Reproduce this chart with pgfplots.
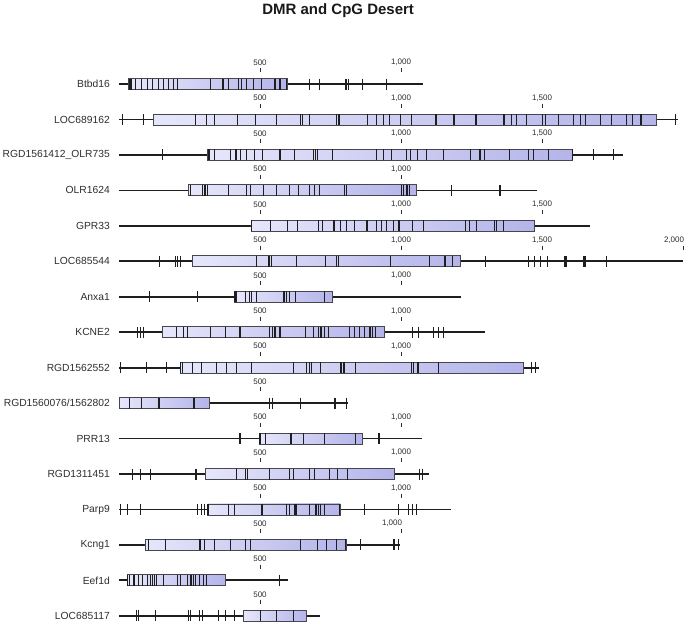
\documentclass[border=0pt]{standalone}
\usepackage{fontspec}
\setmainfont{Liberation Sans}
\usepackage{pgfplots}
\pgfplotsset{compat=1.18}
\definecolor{boxL}{RGB}{230,230,251}
\definecolor{boxR}{RGB}{180,180,234}
\definecolor{linec}{RGB}{30,30,30}
\definecolor{boxline}{RGB}{70,70,80}
\definecolor{txt}{RGB}{45,45,45}
\begin{document}
\begin{tikzpicture}
\begin{axis}[
  hide axis, clip=false,
  x=0.282pt, y=35.45pt, y dir=reverse,
  xmin=-422, xmax=2007, ymin=-1.35, ymax=16.22,
  gene/.style={linec, line width=1.8pt, no markers},
  box/.style={draw=boxline, line width=0.9pt, left color=boxL, right color=boxR, no markers},
  cpg/.style={only marks, mark=|, mark size=5.5pt, mark options={draw=linec, line width=1.1pt}},
  scale/.style={only marks, mark=|, mark size=2pt, mark options={draw=txt, line width=1pt},
    nodes near coords, point meta=explicit symbolic,
    nodes near coords style={font=\fontsize{8}{9}\selectfont, text=txt, inner sep=0pt}},
]
% gene lines
\addplot[gene] coordinates {(0,1) (1077,1)};
\addplot[gene] coordinates {(0,2) (1983,2)};
\addplot[gene] coordinates {(0,3) (1788,3)};
\addplot[gene] coordinates {(0,4) (1481,4)};
\addplot[gene] coordinates {(0,5) (1670,5)};
\addplot[gene] coordinates {(0,6) (2001,6)};
\addplot[gene] coordinates {(0,7) (1212,7)};
\addplot[gene] coordinates {(0,8) (1298,8)};
\addplot[gene] coordinates {(0,9) (1490,9)};
\addplot[gene] coordinates {(0,10) (813,10)};
\addplot[gene] coordinates {(0,11) (1075,11)};
\addplot[gene] coordinates {(0,12) (1100,12)};
\addplot[gene] coordinates {(0,13) (1176,13)};
\addplot[gene] coordinates {(0,14) (996,14)};
\addplot[gene] coordinates {(0,15) (598,15)};
\addplot[gene] coordinates {(0,16) (713,16)};
% DMR boxes
\addplot[box] coordinates {(35,0.845) (597,0.845) (597,1.155) (35,1.155)} --cycle;
\addplot[box] coordinates {(122,1.845) (1907,1.845) (1907,2.155) (122,2.155)} --cycle;
\addplot[box] coordinates {(313,2.845) (1609,2.845) (1609,3.155) (313,3.155)} --cycle;
\addplot[box] coordinates {(248,3.845) (1055,3.845) (1055,4.155) (248,4.155)} --cycle;
\addplot[box] coordinates {(468,4.845) (1473,4.845) (1473,5.155) (468,5.155)} --cycle;
\addplot[box] coordinates {(259,5.845) (1211,5.845) (1211,6.155) (259,6.155)} --cycle;
\addplot[box] coordinates {(409,6.845) (756,6.845) (756,7.155) (409,7.155)} --cycle;
\addplot[box] coordinates {(155,7.845) (940,7.845) (940,8.155) (155,8.155)} --cycle;
\addplot[box] coordinates {(219,8.845) (1434,8.845) (1434,9.155) (219,9.155)} --cycle;
\addplot[box] coordinates {(0,9.845) (319,9.845) (319,10.155) (0,10.155)} --cycle;
\addplot[box] coordinates {(498,10.845) (863,10.845) (863,11.155) (498,11.155)} --cycle;
\addplot[box] coordinates {(308,11.845) (977,11.845) (977,12.155) (308,12.155)} --cycle;
\addplot[box] coordinates {(314,12.845) (784,12.845) (784,13.155) (314,13.155)} --cycle;
\addplot[box] coordinates {(92,13.845) (805,13.845) (805,14.155) (92,14.155)} --cycle;
\addplot[box] coordinates {(30,14.845) (376,14.845) (376,15.155) (30,15.155)} --cycle;
\addplot[box] coordinates {(441,15.845) (665,15.845) (665,16.155) (441,16.155)} --cycle;
% CpG sites
\addplot[cpg] coordinates {(39,1) (45,1) (60,1) (80,1) (100,1) (119,1) (139,1) (157,1) (175,1) (193,1) (208,1) (323,1) (368,1) (372,1) (388,1) (423,1) (435,1) (453,1) (476,1) (506,1) (553,1) (571,1) (595,1) (674,1) (710,1) (805,1) (814,1) (864,1) (947,1)};
\addplot[cpg] coordinates {(12,2) (86,2) (270,2) (311,2) (340,2) (420,2) (485,2) (559,2) (644,2) (650,2) (674,2) (772,2) (777,2) (781,2) (881,2) (914,2) (937,2) (959,2) (999,2) (1038,2) (1124,2) (1188,2) (1266,2) (1365,2) (1392,2) (1408,2) (1446,2) (1501,2) (1513,2) (1558,2) (1611,2) (1635,2) (1655,2) (1708,2) (1745,2) (1800,2) (1820,2) (1849,2) (1853,2) (1972,2)};
\addplot[cpg] coordinates {(155,3) (319,3) (340,3) (396,3) (415,3) (431,3) (453,3) (479,3) (509,3) (571,3) (622,3) (691,3) (697,3) (704,3) (756,3) (914,3) (937,3) (967,3) (1018,3) (1035,3) (1058,3) (1089,3) (1150,3) (1247,3) (1280,3) (1296,3) (1386,3) (1451,3) (1469,3) (1522,3) (1607,3) (1682,3) (1753,3)};
\addplot[cpg] coordinates {(252,4) (295,4) (305,4) (313,4) (388,4) (453,4) (465,4) (512,4) (557,4) (606,4) (636,4) (675,4) (693,4) (710,4) (801,4) (807,4) (1002,4) (1010,4) (1018,4) (1022,4) (1030,4) (1180,4) (1351,4)};
\addplot[cpg] coordinates {(470,5) (538,5) (598,5) (632,5) (707,5) (722,5) (760,5) (763,5) (784,5) (807,5) (835,5) (876,5) (882,5) (914,5) (931,5) (949,5) (973,5) (993,5) (1040,5) (1079,5) (1230,5) (1242,5) (1268,5) (1333,5) (1339,5) (1363,5)};
\addplot[cpg] coordinates {(143,6) (201,6) (208,6) (219,6) (488,6) (530,6) (535,6) (541,6) (630,6) (731,6) (772,6) (777,6) (964,6) (1100,6) (1156,6) (1182,6) (1298,6) (1451,6) (1473,6) (1496,6) (1520,6) (1579,6) (1585,6) (1649,6) (1655,6) (1729,6)};
\addplot[cpg] coordinates {(108,7) (279,7) (411,7) (415,7) (450,7) (462,7) (470,7) (488,7) (585,7) (594,7) (603,7) (626,7) (730,7)};
\addplot[cpg] coordinates {(66,8) (77,8) (88,8) (204,8) (230,8) (242,8) (326,8) (379,8) (429,8) (535,8) (544,8) (553,8) (571,8) (660,8) (689,8) (707,8) (713,8) (719,8) (730,8) (742,8) (816,8) (835,8) (852,8) (870,8) (890,8) (900,8) (908,8) (1041,8) (1061,8) (1115,8) (1132,8) (1150,8)};
\addplot[cpg] coordinates {(4,9) (96,9) (169,9) (219,9) (226,9) (261,9) (293,9) (346,9) (382,9) (417,9) (470,9) (618,9) (666,9) (675,9) (681,9) (713,9) (787,9) (795,9) (801,9) (839,9) (1038,9) (1044,9) (1058,9) (1063,9) (1132,9) (1463,9) (1477,9)};
\addplot[cpg] coordinates {(36,10) (80,10) (139,10) (145,10) (266,10) (535,10) (544,10) (642,10) (766,10) (807,10)};
\addplot[cpg] coordinates {(429,11) (500,11) (520,11) (610,11) (654,11) (728,11) (837,11) (922,11)};
\addplot[cpg] coordinates {(48,12) (77,12) (112,12) (273,12) (417,12) (450,12) (456,12) (535,12) (603,12) (620,12) (674,12) (693,12) (746,12) (775,12) (810,12) (1065,12) (1077,12)};
\addplot[cpg] coordinates {(4,13) (30,13) (77,13) (278,13) (291,13) (303,13) (314,13) (318,13) (388,13) (408,13) (504,13) (509,13) (594,13) (604,13) (624,13) (630,13) (677,13) (697,13) (701,13) (707,13) (713,13) (728,13) (782,13) (869,13) (990,13) (1026,13) (1040,13) (1055,13)};
\addplot[cpg] coordinates {(104,14) (165,14) (285,14) (290,14) (303,14) (338,14) (394,14) (450,14) (467,14) (645,14) (703,14) (736,14) (772,14) (803,14) (855,14) (975,14) (990,14)};
\addplot[cpg] coordinates {(30,15) (37,15) (53,15) (68,15) (84,15) (100,15) (112,15) (119,15) (125,15) (133,15) (157,15) (207,15) (219,15) (242,15) (252,15) (258,15) (264,15) (270,15) (285,15) (299,15) (311,15) (569,15)};
\addplot[cpg] coordinates {(63,16) (70,16) (130,16) (248,16) (255,16) (287,16) (295,16) (352,16) (378,16) (411,16) (502,16) (559,16) (618,16)};
% position scale above each gene
\addplot[scale, nodes near coords style={anchor=center, yshift=7.8pt}] coordinates {
  (500,0.615) [500] (1000,0.615) [1,000]
  (500,1.615) [500] (1000,1.615) [1,000] (1500,1.615) [1,500]
  (500,2.615) [500] (1000,2.615) [1,000] (1500,2.615) [1,500]
  (500,3.615) [500] (1000,3.615) [1,000]
  (500,4.615) [500] (1000,4.615) [1,000] (1500,4.615) [1,500]
  (500,5.615) [500] (1000,5.615) [1,000] (1500,5.615) [1,500]
  (500,6.615) [500] (1000,6.615) [1,000]
  (500,7.615) [500] (1000,7.615) [1,000]
  (500,8.615) [500] (1000,8.615) [1,000]
  (500,9.615) [500]
  (500,10.615) [500] (1000,10.615) [1,000]
  (500,11.615) [500] (1000,11.615) [1,000]
  (500,12.615) [500] (1000,12.615) [1,000]
  (500,13.615) [500]
  (500,14.615) [500]
  (500,15.615) [500]
};
\addplot[scale, nodes near coords style={anchor=east, xshift=1.5pt, yshift=7.8pt}] coordinates {
  (2000,5.615) [2,000] (1000,13.615) [1,000]
};
% gene names
\begin{scope}[every node/.style={anchor=east, inner sep=0pt, font=\fontsize{10.3}{12}\selectfont, text=txt}]
\node at (axis cs:-32,1) {Btbd16};
\node at (axis cs:-32,2) {LOC689162};
\node at (axis cs:-32,3) {RGD1561412\_OLR735};
\node at (axis cs:-32,4) {OLR1624};
\node at (axis cs:-32,5) {GPR33};
\node at (axis cs:-32,6) {LOC685544};
\node at (axis cs:-32,7) {Anxa1};
\node at (axis cs:-32,8) {KCNE2};
\node at (axis cs:-32,9) {RGD1562552};
\node at (axis cs:-32,10) {RGD1560076/1562802};
\node at (axis cs:-32,11) {PRR13};
\node at (axis cs:-32,12) {RGD1311451};
\node at (axis cs:-32,13) {Parp9};
\node at (axis cs:-32,14) {Kcng1};
\node at (axis cs:-32,15) {Eef1d};
\node at (axis cs:-32,16) {LOC685117};
\end{scope}
\node[font=\bfseries\fontsize{15}{17}\selectfont, text=black!90] at (axis cs:777,-1.08) {DMR and CpG Desert};
\path (axis cs:-422,-1.35) rectangle (axis cs:2007,16.22);
\end{axis}
\end{tikzpicture}
\end{document}
